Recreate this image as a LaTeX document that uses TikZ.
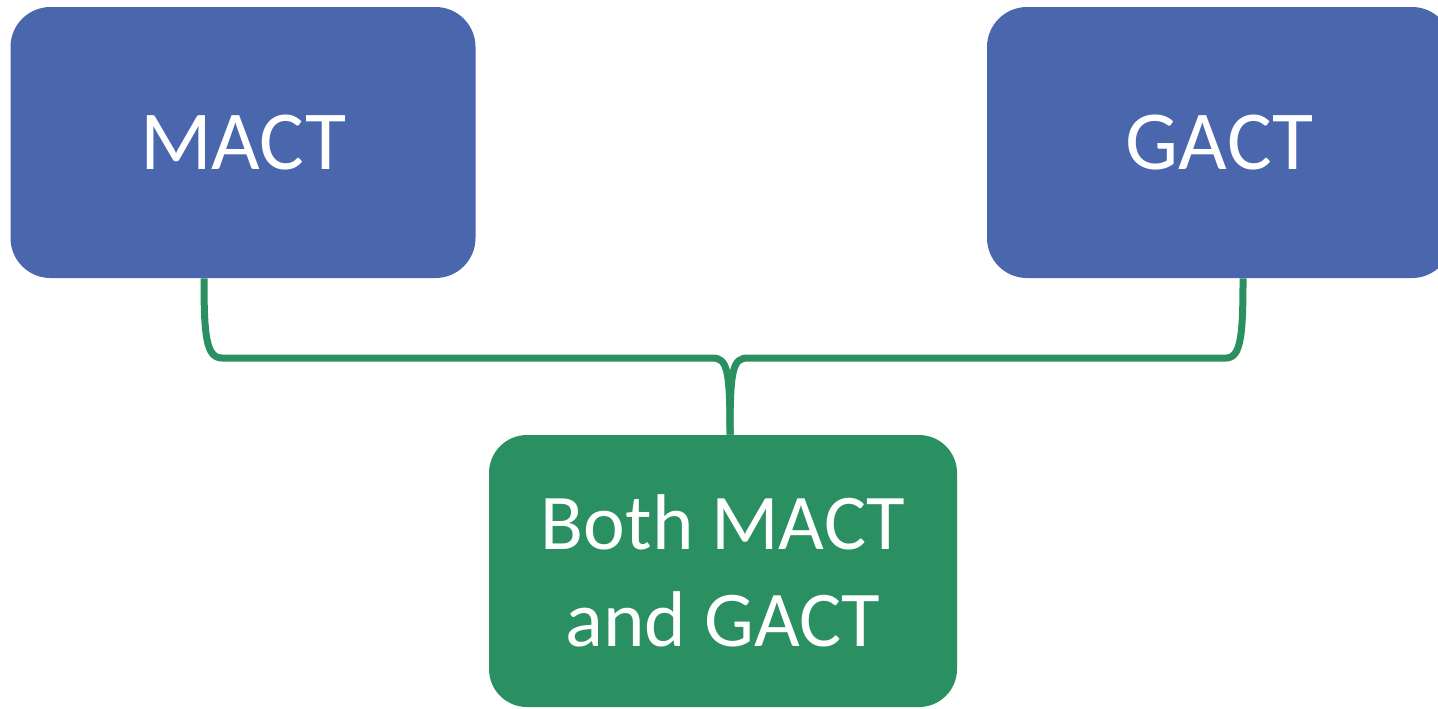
\documentclass[tikz,border=0pt]{standalone}
\usepackage{fontspec}
\setmainfont{Carlito}
\definecolor{boxblue}{HTML}{4A67AD}
\definecolor{boxgreen}{HTML}{2A9062}
\begin{document}
\begin{tikzpicture}[x=0.5pt,y=-0.5pt,
  bluebox/.style={fill=boxblue, draw=none, rounded corners=20pt, text=white,
    minimum width=232.5pt, minimum height=135.5pt, inner sep=0pt,
    font=\fontsize{42}{51}\selectfont},
  greenbox/.style={fill=boxgreen, draw=none, rounded corners=19pt, text=white,
    minimum width=234pt, minimum height=136pt, inner sep=0pt, align=center,
    font=\fontsize{39.5}{48.5}\selectfont},
  conn/.style={draw=boxgreen, line width=3.5pt}]
\useasboundingbox (0,0) rectangle (1438,708);
\clip (0,0) rectangle (1438,708);
\node[bluebox] (m) at (243,142.5) {MACT};
\node[bluebox] (g) at (1219.5,142.5) {GACT};
\node[greenbox] (b) at (723,571) {Both MACT\\and GACT};
\coordinate (ls) at (204,358);
\coordinate (rs) at (1243,358);
\coordinate (ms) at (730,358);
\draw[conn] (m.south -| ls) .. controls (204,335) and (206,358) .. (222,358) -- (712,358)
  .. controls (727,358) and (730,368) .. (b.north -| ms);
\draw[conn] (g.south -| rs) .. controls (1243,335) and (1241,358) .. (1226,358) -- (748,358)
  .. controls (733,358) and (730,368) .. (b.north -| ms);
\end{tikzpicture}
\end{document}
